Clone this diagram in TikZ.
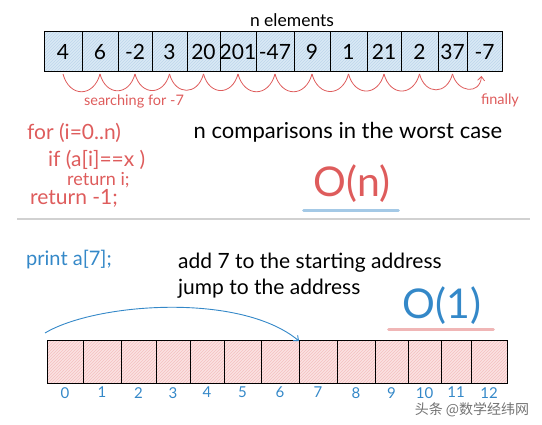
\documentclass[tikz,border=0pt]{standalone}
\usepackage{fontspec}
\setmainfont{Lato}
\newfontfamily\cjkfont{Noto Sans CJK SC}
\usetikzlibrary{positioning, arrows.meta, patterns}
\definecolor{penred}{RGB}{222,92,92}
\definecolor{penblue}{RGB}{52,136,200}
\definecolor{cellblue}{RGB}{218,233,245}
\definecolor{cellred}{RGB}{251,226,226}
\definecolor{hatchblue}{RGB}{190,214,236}
\definecolor{hatchred}{RGB}{244,192,192}
\tikzset{
  topcell/.style={draw, line width=1pt, preaction={fill=cellblue}, pattern=north east lines, pattern color=hatchblue, minimum height=40pt, inner sep=0pt, outer sep=0pt, font=\fontsize{21}{21}\selectfont},
  botcell/.style={draw, line width=1pt, preaction={fill=cellred}, pattern=north east lines, pattern color=hatchred, minimum height=43pt, inner sep=0pt, outer sep=0pt},
  idx/.style={text=penblue, font=\fontsize{15}{15}\selectfont, inner sep=1pt},
  redtxt/.style={text=penred, font=\fontsize{21}{21}\selectfont, anchor=west, inner sep=0pt},
  hand/.style={font=\fontsize{21}{21}\selectfont, inner sep=0pt},
  big/.style={font=\fontsize{41}{41}\selectfont, inner sep=0pt},
  hop/.style={draw=penred, line width=0.8pt},
  uline/.style={line width=3pt, line cap=round, draw=#1!45}
}

\begin{document}
\begin{tikzpicture}[x=1pt, y=1pt]
  \useasboundingbox (0,0) rectangle (542,-425);

  % Top array: linear search
  \node[hand, font=\fontsize{17.5}{17.5}\selectfont] (elems) at (292,-20) {n elements};
  \foreach \l/\r/\v [count=\i from 0] in {44/82/4, 82/118/6, 118/152/-2, 152/187/3, 187/220/20, 220/256/201, 256/294/-47, 294/330/9, 330/367/1, 367/401/21, 401/438/2, 438/467/37, 467/502/-7}
    \node[topcell, minimum width={(\r-\l)*1pt}] (t\i) at ({(\l+\r)/2}, -52) {\makebox[0pt]{\v}};

  % Hops under the cells
  \foreach \i in {0,...,10}{
    \pgfmathtruncatemacro\j{\i+1}
    \draw[hop] ([yshift=-2pt]t\i.south) to[out=-75, in=-105, looseness=1.7] ([yshift=-2pt]t\j.south);
  }
  \draw[hop, -{Straight Barb[length=4pt, width=7pt]}] ([yshift=-2pt]t11.south) to[out=-75, in=-95, looseness=1.7] ([xshift=-3pt, yshift=-4pt]t12.south);
  \node[text=penred, font=\fontsize{14.5}{14.5}\selectfont] (search) at (134,-101) {searching for -7};
  \node[text=penred, font=\fontsize{14.5}{14.5}\selectfont] (finally) at (500,-100) {finally};

  % Code and cost
  \node[redtxt] (c1) at (27,-133) {for (i=0..n)};
  \node[redtxt] (c2) at (48,-160) {if (a[i]==x )};
  \node[redtxt, font=\fontsize{18}{18}\selectfont] (c3) at (67,-180) {return i;};
  \node[redtxt] (c4) at (30,-198) {return -1;};
  \node[hand, font=\fontsize{22}{22}\selectfont] (worst) at (348,-132) {n comparisons in the worst case};
  \node[big, text=penred] (On) at (352,-184) {O(n)};
  \draw[uline=penblue] ([xshift=-10pt, yshift=-7pt]On.south west) -- ([xshift=8pt, yshift=-7pt]On.south east);

  \draw[line width=1.5pt, black!18] (17,-219) -- (530,-219);

  % Bottom array: direct access
  \node[text=penblue, font=\fontsize{20}{20}\selectfont, anchor=west, inner sep=0pt] (print) at (26,-260) {print a[7];};
  \node[hand, anchor=west] (addtxt) at (178,-263) {add 7 to the starting address};
  \node[hand, anchor=west] (jumptxt) at (178,-289) {jump to the address};
  \node[big, text=penblue] (Oone) at (442,-306) {O(1)};
  \draw[uline=penred] ([xshift=-14pt, yshift=-4pt]Oone.south west) -- ([xshift=12pt, yshift=-4pt]Oone.south east);

  \foreach \l/\r [count=\i from 0] in {47/83, 83/121, 121/156, 156/190, 190/224, 224/261, 261/299, 299/337, 337/375, 375/408, 408/441, 441/471, 471/507}
    \node[botcell, minimum width={(\r-\l)*1pt}] (b\i) at ({(\l+\r)/2}, -362.5) {};
  \foreach \i in {0,...,12}
    \node[idx, below=2pt of b\i] (n\i) {\i};

  \coordinate (jstart) at (45,-333);
  \draw[penblue, line width=0.9pt, -{Straight Barb[length=4pt, width=7pt]}] (jstart) .. controls (95,-303) and (240,-292) .. (b7.north west);

  \node[text=black!55, font=\cjkfont\fontsize{14}{14}\selectfont, inner sep=0pt] (mark) at (472,-410) {头条 @数学经纬网};
\end{tikzpicture}
\end{document}
